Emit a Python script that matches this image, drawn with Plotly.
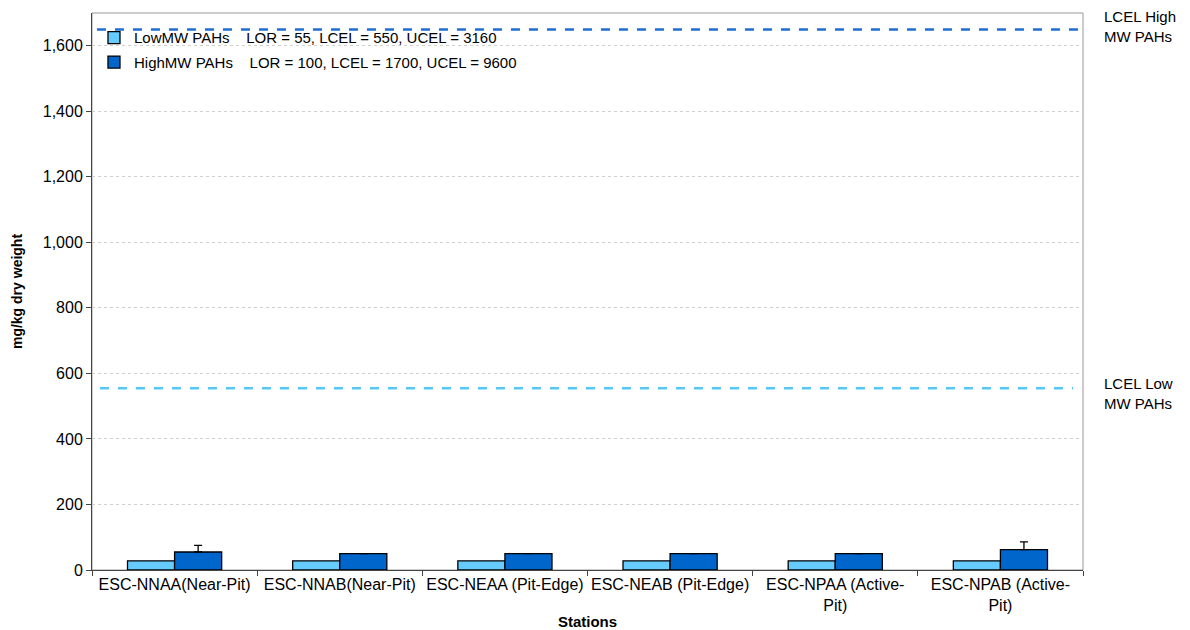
import plotly.graph_objects as go

stations = ["ESC-NNAA(Near-Pit)", "ESC-NNAB(Near-Pit)", "ESC-NEAA (Pit-Edge)",
            "ESC-NEAB (Pit-Edge)", "ESC-NPAA (Active-<br>Pit)", "ESC-NPAB (Active-<br>Pit)"]
low_mw = [28, 28, 28, 28, 28, 28]
high_mw = [55, 50, 50, 50, 50, 62]
high_err = [20, 0, 0, 0, 0, 24]
lcel_high_line = 1650
lcel_low_line = 555
y_ticks = [0, 200, 400, 600, 800, 1000, 1200, 1400, 1600]

font = "Liberation Sans, Arial, sans-serif"
fig = go.Figure()
fig.add_trace(go.Bar(x=stations, y=low_mw, name="LowMW PAHs    LOR = 55, LCEL = 550, UCEL = 3160",
                     legendgroup="low",
                     marker=dict(color="#66CCFF", line=dict(color="black", width=1.3))))
fig.add_trace(go.Bar(x=stations, y=high_mw, name="HighMW PAHs    LOR = 100, LCEL = 1700, UCEL = 9600",
                     legendgroup="high",
                     marker=dict(color="#0066CC", line=dict(color="black", width=1.3)),
                     error_y=dict(type="data", array=high_err, symmetric=False, arrayminus=[0]*6,
                                  visible=True, color="black", thickness=1.3, width=4)))

fig.add_shape(type="line", xref="paper", x0=0.005, x1=0.998, y0=lcel_high_line, y1=lcel_high_line,
              line=dict(color="#1F6FD0", width=2.5, dash="dash"))
fig.add_shape(type="line", xref="paper", x0=0.008, x1=0.99, y0=lcel_low_line, y1=lcel_low_line,
              line=dict(color="#55C8F5", width=2.5, dash="dash"))

fig.add_annotation(xref="paper", x=1.019, xanchor="left", y=lcel_high_line + 8, yref="y",
                   text="LCEL High<br>MW PAHs", showarrow=False, align="left",
                   font=dict(family=font, size=15, color="black"))
fig.add_annotation(xref="paper", x=1.019, xanchor="left", y=lcel_low_line - 15, yref="y",
                   text="LCEL Low<br>MW PAHs", showarrow=False, align="left",
                   font=dict(family=font, size=15, color="black"))

# page body has an 8px margin: shrink figure to compensate
fig.update_layout(
    width=1182, height=622,
    margin=dict(l=84, r=107, t=5, b=60),
    plot_bgcolor="white", paper_bgcolor="white",
    font=dict(family=font, size=16, color="black"),
    barmode="group", bargap=0.43, bargroupgap=0,
    showlegend=True,
    legend=dict(x=0.002, y=0.985, xanchor="left", yanchor="top", bgcolor="rgba(0,0,0,0)",
                font=dict(family=font, size=15), itemwidth=30, tracegroupgap=2),
    xaxis=dict(title=dict(text="<b>Stations</b>", font=dict(size=15), standoff=4),
               tickson="boundaries", ticks="outside", ticklen=5, tickcolor="#444",
               showline=True, linecolor="#444", linewidth=1, mirror=False, tickangle=0,
               tickfont=dict(size=16), showgrid=False, automargin=False),
    yaxis=dict(title=dict(text="<b>mg/kg dry weight</b>", font=dict(size=14), standoff=16),
               range=[0, 1700], tickvals=y_ticks, tickformat=",", ticks="outside", ticklen=5,
               tickcolor="#444", showline=True, linecolor="#444", linewidth=1,
               showgrid=True, gridcolor="#D0D0D0", griddash="dot", zeroline=False,
               tickfont=dict(size=16), automargin=False),
)
fig.add_shape(type="rect", xref="paper", yref="paper", x0=0, x1=1, y0=0, y1=1,
              line=dict(color="#999", width=1), layer="below")
fig.write_html("out.html")
